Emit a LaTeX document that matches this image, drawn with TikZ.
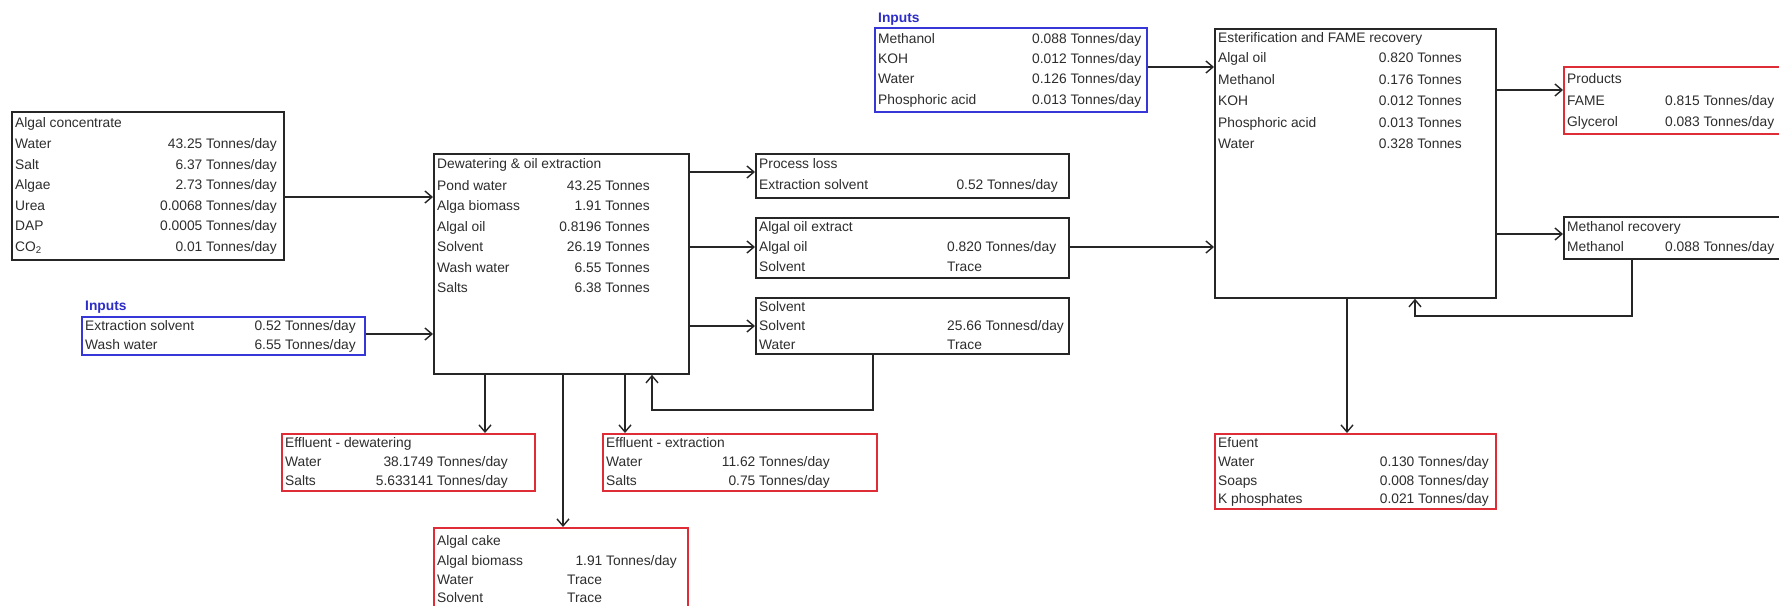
\documentclass[tikz,border=0pt]{standalone}
\usepackage{fontspec}
\setmainfont{Liberation Sans}
\usetikzlibrary{arrows.meta}
\definecolor{boxred}{RGB}{222,45,55}
\definecolor{boxblue}{RGB}{55,55,215}
\definecolor{lblblue}{RGB}{45,45,200}
\definecolor{txtgray}{RGB}{45,45,45}
\tikzset{
 box/.style={draw, line width=1.8pt, anchor=north west, inner sep=0pt, fill=white},
 blackbox/.style={box, draw=black!85},
 redbox/.style={box, draw=boxred},
 bluebox/.style={box, draw=boxblue},
 txt/.style={font=\fontsize{13.8}{15}\selectfont, text=txtgray, inner sep=0pt, text height=12pt, text depth=3pt},
 lt/.style={txt, anchor=west},
 rt/.style={txt, anchor=east},
 inlbl/.style={font=\fontsize{13.8}{15}\bfseries\selectfont, text=lblblue, inner sep=0pt, anchor=west, text height=12pt, text depth=3pt},
 conn/.style={line width=1.6pt, draw=black!85, -{Straight Barb[length=7pt,width=12pt,line width=1.4pt]}}
}
\begin{document}
\begin{tikzpicture}[x=1pt,y=-1pt]
\useasboundingbox (0,0) rectangle (1779,605);
\clip (0,0) rectangle (1779,605);
\fill[white] (0,0) rectangle (1779,605);
% boxes
\node[blackbox, minimum width=272pt, minimum height=148pt] (conc) at (11,111) {};
\node[bluebox, minimum width=283pt, minimum height=38pt] (inL) at (81,316) {};
\node[blackbox, minimum width=255pt, minimum height=220pt] (dew) at (433,153) {};
\node[blackbox, minimum width=313pt, minimum height=44pt] (ploss) at (755,153) {};
\node[blackbox, minimum width=313pt, minimum height=60pt] (oil) at (755,217) {};
\node[blackbox, minimum width=313pt, minimum height=56pt] (solv) at (755,297) {};
\node[redbox, minimum width=253pt, minimum height=57pt] (effd) at (281,433) {};
\node[redbox, minimum width=274pt, minimum height=57pt] (effe) at (602,433) {};
\node[redbox, minimum width=254pt, minimum height=90pt] (cake) at (433,527) {};
\node[bluebox, minimum width=272pt, minimum height=84pt] (inT) at (874,27) {};
\node[blackbox, minimum width=281pt, minimum height=269pt] (est) at (1214,28) {};
\node[redbox, minimum width=225pt, minimum height=67pt] (prod) at (1563,66) {};
\node[blackbox, minimum width=225pt, minimum height=42pt] (mrec) at (1563,216) {};
\node[redbox, minimum width=281pt, minimum height=75pt] (efu) at (1214,433) {};
% connectors
\draw[conn] (conc.east |- 0,197) -- (dew.west |- 0,197);
\draw[conn] (inL.east |- 0,334) -- (dew.west |- 0,334);
\draw[conn] (dew.east |- 0,172) -- (ploss.west |- 0,172);
\draw[conn] (dew.east |- 0,247) -- (oil.west |- 0,247);
\draw[conn] (dew.east |- 0,326) -- (solv.west |- 0,326);
\draw[conn] (oil.east |- 0,247) -- (est.west |- 0,247);
\draw[conn] (inT.east |- 0,67) -- (est.west |- 0,67);
\draw[conn] (est.east |- 0,90) -- (prod.west |- 0,90);
\draw[conn] (est.east |- 0,234) -- (mrec.west |- 0,234);
\draw[conn] (dew.south -| 485,0) -- (effd.north -| 485,0);
\draw[conn] (dew.south -| 563,0) -- (cake.north -| 563,0);
\draw[conn] (dew.south -| 625,0) -- (effe.north -| 625,0);
\coordinate (c1) at (652,410);
\draw[conn] (solv.south -| 873,0) |- (c1) -- (dew.south -| c1);
\coordinate (c2) at (1415,316);
\draw[conn] (mrec.south -| 1632,0) |- (c2) -- (est.south -| c2);
\draw[conn] (est.south -| 1347,0) -- (efu.north -| 1347,0);
% Algal concentrate
\node[lt] (a0) at (15,123) {Algal concentrate};
\node[lt] (a1) at (15,144) {Water};   \node[rt] (a1v) at (277,144) {43.25 Tonnes/day};
\node[lt] (a2) at (15,164.5) {Salt};  \node[rt] (a2v) at (277,164.5) {6.37 Tonnes/day};
\node[lt] (a3) at (15,185) {Algae};   \node[rt] (a3v) at (277,185) {2.73 Tonnes/day};
\node[lt] (a4) at (15,205.5) {Urea};  \node[rt] (a4v) at (277,205.5) {0.0068 Tonnes/day};
\node[lt] (a5) at (15,226) {DAP};     \node[rt] (a5v) at (277,226) {0.0005 Tonnes/day};
\node[lt] (a6) at (15,246.5) {CO\textsubscript{2}}; \node[rt] (a6v) at (277,246.5) {0.01 Tonnes/day};
% Inputs left
\node[inlbl] (b0) at (85,306) {Inputs};
\node[lt] (b1) at (85,326) {Extraction solvent}; \node[rt] (b1v) at (356,326) {0.52 Tonnes/day};
\node[lt] (b2) at (85,345) {Wash water};         \node[rt] (b2v) at (356,345) {6.55 Tonnes/day};
% Dewatering
\node[lt] (d0) at (437,164) {Dewatering \& oil extraction};
\node[lt] (d1) at (437,185.5) {Pond water};   \node[rt] (d1v) at (650,185.5) {43.25 Tonnes};
\node[lt] (d2) at (437,206) {Alga biomass};   \node[rt] (d2v) at (650,206) {1.91 Tonnes};
\node[lt] (d3) at (437,226.5) {Algal oil};    \node[rt] (d3v) at (650,226.5) {0.8196 Tonnes};
\node[lt] (d4) at (437,247) {Solvent};        \node[rt] (d4v) at (650,247) {26.19 Tonnes};
\node[lt] (d5) at (437,267.5) {Wash water};   \node[rt] (d5v) at (650,267.5) {6.55 Tonnes};
\node[lt] (d6) at (437,288) {Salts};          \node[rt] (d6v) at (650,288) {6.38 Tonnes};
% Process loss
\node[lt] (p0) at (759,164) {Process loss};
\node[lt] (p1) at (759,185) {Extraction solvent}; \node[rt] (p1v) at (1058,185) {0.52 Tonnes/day};
% Algal oil extract
\node[lt] (o0) at (759,227) {Algal oil extract};
\node[lt] (o1) at (759,247) {Algal oil}; \node[lt] (o1v) at (947,247) {0.820 Tonnes/day};
\node[lt] (o2) at (759,267) {Solvent};   \node[lt] (o2v) at (947,267) {Trace};
% Solvent
\node[lt] (s0) at (759,307) {Solvent};
\node[lt] (s1) at (759,326) {Solvent}; \node[lt] (s1v) at (947,326) {25.66 Tonnesd/day};
\node[lt] (s2) at (759,345) {Water};   \node[lt] (s2v) at (947,345) {Trace};
% Effluent dewatering
\node[lt] (e0) at (285,443) {Effluent - dewatering};
\node[lt] (e1) at (285,462) {Water}; \node[rt] (e1v) at (508,462) {38.1749 Tonnes/day};
\node[lt] (e2) at (285,481) {Salts}; \node[rt] (e2v) at (508,481) {5.633141 Tonnes/day};
% Effluent extraction
\node[lt] (x0) at (606,443) {Effluent - extraction};
\node[lt] (x1) at (606,462) {Water}; \node[rt] (x1v) at (830,462) {11.62 Tonnes/day};
\node[lt] (x2) at (606,481) {Salts}; \node[rt] (x2v) at (830,481) {0.75 Tonnes/day};
% Algal cake
\node[lt] (k0) at (437,541) {Algal cake};
\node[lt] (k1) at (437,561) {Algal biomass}; \node[rt] (k1v) at (677,561) {1.91 Tonnes/day};
\node[lt] (k2) at (437,580) {Water};   \node[lt] (k2v) at (567,580) {Trace};
\node[lt] (k3) at (437,598) {Solvent}; \node[lt] (k3v) at (567,598) {Trace};
% Inputs top
\node[inlbl] (i0) at (878,18) {Inputs};
\node[lt] (i1) at (878,38.5) {Methanol};        \node[lt] (i1v) at (1032,38.5) {0.088 Tonnes/day};
\node[lt] (i2) at (878,58.5) {KOH};             \node[lt] (i2v) at (1032,58.5) {0.012 Tonnes/day};
\node[lt] (i3) at (878,79) {Water};             \node[lt] (i3v) at (1032,79) {0.126 Tonnes/day};
\node[lt] (i4) at (878,99.5) {Phosphoric acid}; \node[lt] (i4v) at (1032,99.5) {0.013 Tonnes/day};
% Esterification
\node[lt] (f0) at (1218,38) {Esterification and FAME recovery};
\node[lt] (f1) at (1218,58) {Algal oil};         \node[rt] (f1v) at (1462,58) {0.820 Tonnes};
\node[lt] (f2) at (1218,79.5) {Methanol};        \node[rt] (f2v) at (1462,79.5) {0.176 Tonnes};
\node[lt] (f3) at (1218,101) {KOH};              \node[rt] (f3v) at (1462,101) {0.012 Tonnes};
\node[lt] (f4) at (1218,122.5) {Phosphoric acid};\node[rt] (f4v) at (1462,122.5) {0.013 Tonnes};
\node[lt] (f5) at (1218,144) {Water};            \node[rt] (f5v) at (1462,144) {0.328 Tonnes};
% Products
\node[lt] (g0) at (1567,79) {Products};
\node[lt] (g1) at (1567,101) {FAME};     \node[lt] (g1v) at (1665,101) {0.815 Tonnes/day};
\node[lt] (g2) at (1567,122) {Glycerol}; \node[lt] (g2v) at (1665,122) {0.083 Tonnes/day};
% Methanol recovery
\node[lt] (m0) at (1567,227) {Methanol recovery};
\node[lt] (m1) at (1567,247) {Methanol}; \node[lt] (m1v) at (1665,247) {0.088 Tonnes/day};
% Efuent
\node[lt] (u0) at (1218,443) {Efuent};
\node[lt] (u1) at (1218,462) {Water};        \node[rt] (u1v) at (1489,462) {0.130 Tonnes/day};
\node[lt] (u2) at (1218,480.5) {Soaps};      \node[rt] (u2v) at (1489,480.5) {0.008 Tonnes/day};
\node[lt] (u3) at (1218,499) {K phosphates}; \node[rt] (u3v) at (1489,499) {0.021 Tonnes/day};
\end{tikzpicture}
\end{document}
